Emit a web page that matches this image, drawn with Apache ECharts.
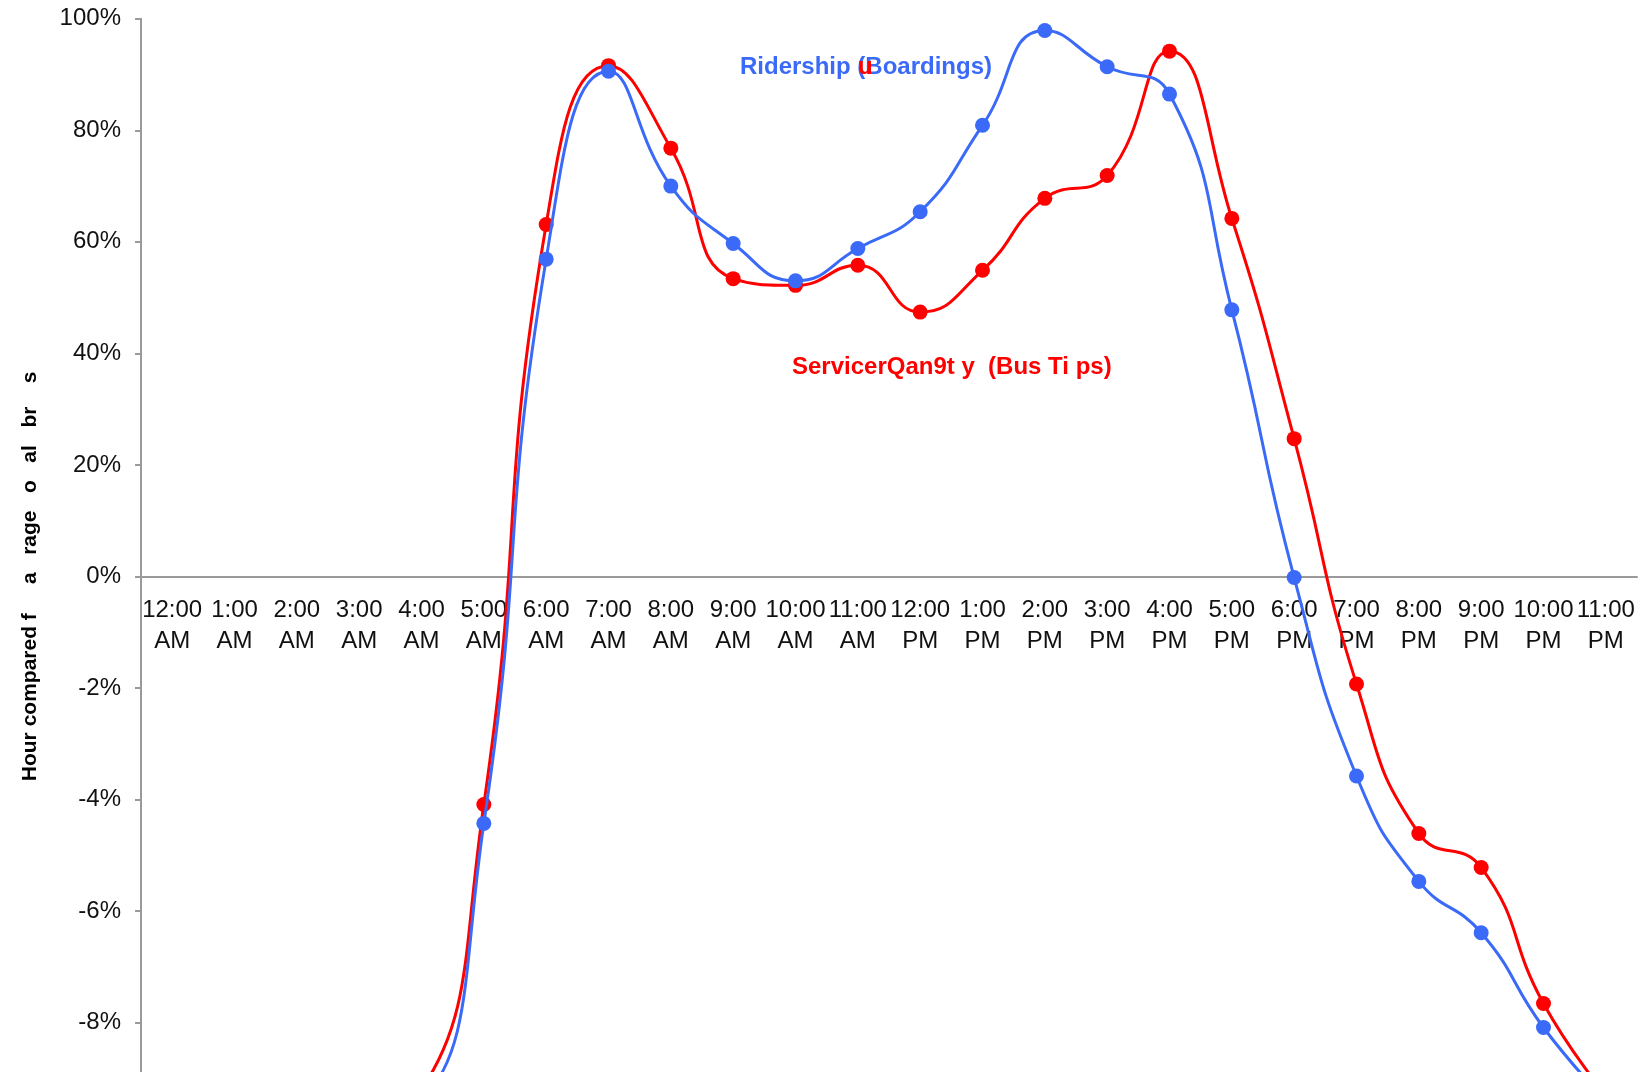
<!DOCTYPE html>
<html lang="en" style="height: 100%">
<head>
  <meta charset="utf-8" />
</head>
<body style="height: 100%; margin: 0; background: #fff; overflow: hidden">
  <!-- the original chart is cut off at the bottom, so the chart is taller than the window -->
  <div id="container" style="width: 1640px; height: 1200px"></div>
  <script src="https://fastly.jsdelivr.net/npm/echarts@6/dist/echarts.min.js"></script>
  <script type="text/javascript">
    // hour of day labels
    var hours = [
      "12:00\nAM", "1:00\nAM", "2:00\nAM", "3:00\nAM", "4:00\nAM", "5:00\nAM",
      "6:00\nAM", "7:00\nAM", "8:00\nAM", "9:00\nAM", "10:00\nAM", "11:00\nAM",
      "12:00\nPM", "1:00\nPM", "2:00\nPM", "3:00\nPM", "4:00\nPM", "5:00\nPM",
      "6:00\nPM", "7:00\nPM", "8:00\nPM", "9:00\nPM", "10:00\nPM", "11:00\nPM"
    ];

    // Ridership (boardings), hour compared to average of all hours
    var ridership = [
      -96, -97, -97, -96, -94, -44.3, 56.9, 90.6, 70.0, 59.7, 53.0, 58.8,
      65.4, 80.9, 97.9, 91.4, 86.5, 47.8, -0.2, -35.8, -54.7, -63.9, -80.9, -94
    ];

    // Service quantity (bus trips)
    var service = [
      -95, -96, -96, -95, -92, -40.9, 63.1, 91.6, 76.8, 53.4, 52.2, 55.8,
      47.4, 54.9, 67.8, 71.9, 94.2, 64.2, 24.7, -19.3, -46.1, -52.2, -76.6, -93
    ];

    // tick labels as printed on the original chart
    var yTickValues = [100, 80, 60, 40, 20, 0, -20, -40, -60, -80, -100];
    var yTickLabels = ["100%", "80%", "60%", "40%", "20%", "0%", "-2%", "-4%", "-6%", "-8%", "-10%"];

    var FONT = "'Liberation Sans', Arial, Helvetica, sans-serif";
    var BLUE = "#3a6af7";
    var RED = "#ff0000";

    var chart = echarts.init(document.getElementById("container"), null, { renderer: "canvas" });

    // grid: top 18.8, bottom edge at 1134 -> zero line sits 557.6px above the bottom
    var gridTop = 18.8, gridBottom = 66, chartH = 1200;
    var zeroOffset = -((chartH - gridBottom) - (gridTop + (chartH - gridBottom - gridTop) / 2));

    var option = {
      animation: false,
      backgroundColor: "#fff",
      grid: { left: 141, right: 3, top: gridTop, bottom: gridBottom, containLabel: false, outerBoundsMode: "none" },
      xAxis: {
        type: "category",
        data: hours,
        boundaryGap: true,
        position: "bottom",
        offset: zeroOffset,
        axisLine: { onZero: false, lineStyle: { color: "#9a9a9a", width: 2 } },
        axisTick: { show: false },
        axisLabel: {
          interval: 0,
          margin: 18,
          color: "#111",
          fontFamily: FONT,
          fontSize: 24,
          lineHeight: 31
        },
        splitLine: { show: false }
      },
      yAxis: {
        type: "value",
        min: -100,
        max: 100,
        interval: 20,
        name: "Hour compared f     a   rage   o   al   br    s",
        nameLocation: "middle",
        nameGap: 100,
        nameTextStyle: { color: "#000", fontFamily: FONT, fontSize: 21, fontWeight: "bold" },
        axisLine: { show: true, lineStyle: { color: "#9a9a9a", width: 2 } },
        axisTick: { show: true, length: 6, lineStyle: { color: "#9a9a9a", width: 2 } },
        axisLabel: {
          margin: 20,
          color: "#111",
          fontFamily: FONT,
          fontSize: 24,
          formatter: function (v) {
            var i = yTickValues.indexOf(v);
            return i >= 0 ? yTickLabels[i] : "";
          }
        },
        splitLine: { show: false }
      },
      series: [
        {
          name: "Ridership (Boardings)",
          type: "line",
          data: ridership,
          smooth: 0.5,
          symbol: "circle",
          symbolSize: 15,
          lineStyle: { color: BLUE, width: 3 },
          itemStyle: { color: BLUE },
          z: 3
        },
        {
          name: "Service Quantity (Bus Trips)",
          type: "line",
          data: service,
          smooth: 0.5,
          symbol: "circle",
          symbolSize: 15,
          lineStyle: { color: RED, width: 3 },
          itemStyle: { color: RED },
          z: 2
        }
      ],
      graphic: [
        {
          type: "text",
          left: 740,
          top: 55,
          style: { text: "Ridership (Boardings)", fill: BLUE, font: "bold 24px " + FONT }
        },
        {
          type: "text",
          left: 858,
          top: 55,
          style: { text: "u", fill: RED, font: "bold 24px " + FONT }
        },
        {
          type: "text",
          left: 792,
          top: 355,
          style: { text: "ServicerQan9t y  (Bus Ti ps)", fill: RED, font: "bold 24px " + FONT }
        }
      ]
    };

    chart.setOption(option);
    window.addEventListener("resize", chart.resize);
  </script>
</body>
</html>
